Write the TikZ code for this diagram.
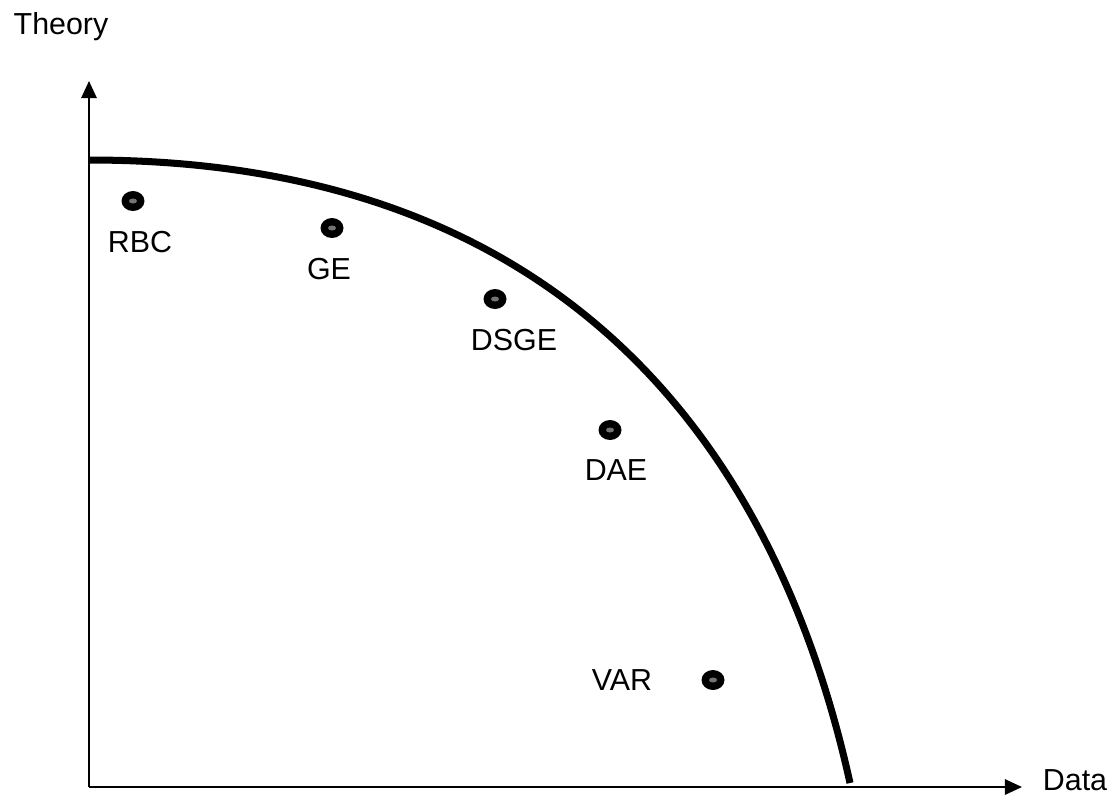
\documentclass[tikz,border=0pt]{standalone}
\usepackage{fontspec}
\setmainfont{Liberation Sans}
\usetikzlibrary{arrows.meta, shapes.geometric}
\tikzset{
  axis/.style={line width=1.1pt, -{Triangle[length=9.8pt, width=8.8pt]}},
  frontier/.style={line width=4pt},
  mdot/.style={ellipse, fill=black, draw=none, inner sep=0pt,
               minimum width=0.46cm, minimum height=0.40cm,
               path picture={\fill[black!55] (path picture bounding box.center) ellipse (0.08cm and 0.05cm);}},
  lbl/.style={inner sep=0pt, font=\fontsize{17.3}{20}\selectfont},
}

\begin{document}
\begin{tikzpicture}[x=0.02cm, y=-0.02cm]
  \useasboundingbox (0,0) rectangle (1114,796);

  % axes
  \coordinate (O) at (89,787);
  \coordinate (ytip) at (89,81);
  \coordinate (xtip) at (1022,787);
  \draw[axis] (O) -- (ytip);
  \draw[axis] (O) -- (xtip);
  \node[lbl] (theory) at (61,27) {Theory};
  \node[lbl] (data) at (1075,780) {Data};

  % frontier
  \coordinate (fstart) at (89,160);
  \coordinate (fend) at (850,783);
  \draw[frontier] (fstart) .. controls (570,160) and (777,453) .. (fend);

  % models
  \node[mdot] (rbc) at (133,201) {};
  \node[mdot] (ge) at (332,228) {};
  \node[mdot] (dsge) at (495,299) {};
  \node[mdot] (dae) at (610,430) {};
  \node[mdot] (var) at (713,680) {};

  \node[lbl] (rbcl) at (140,242) {RBC};
  \node[lbl] (gel) at (329,269) {GE};
  \node[lbl] (dsgel) at (514,340) {DSGE};
  \node[lbl] (dael) at (616,470) {DAE};
  \node[lbl] (varl) at (622,680) {VAR};
\end{tikzpicture}
\end{document}
